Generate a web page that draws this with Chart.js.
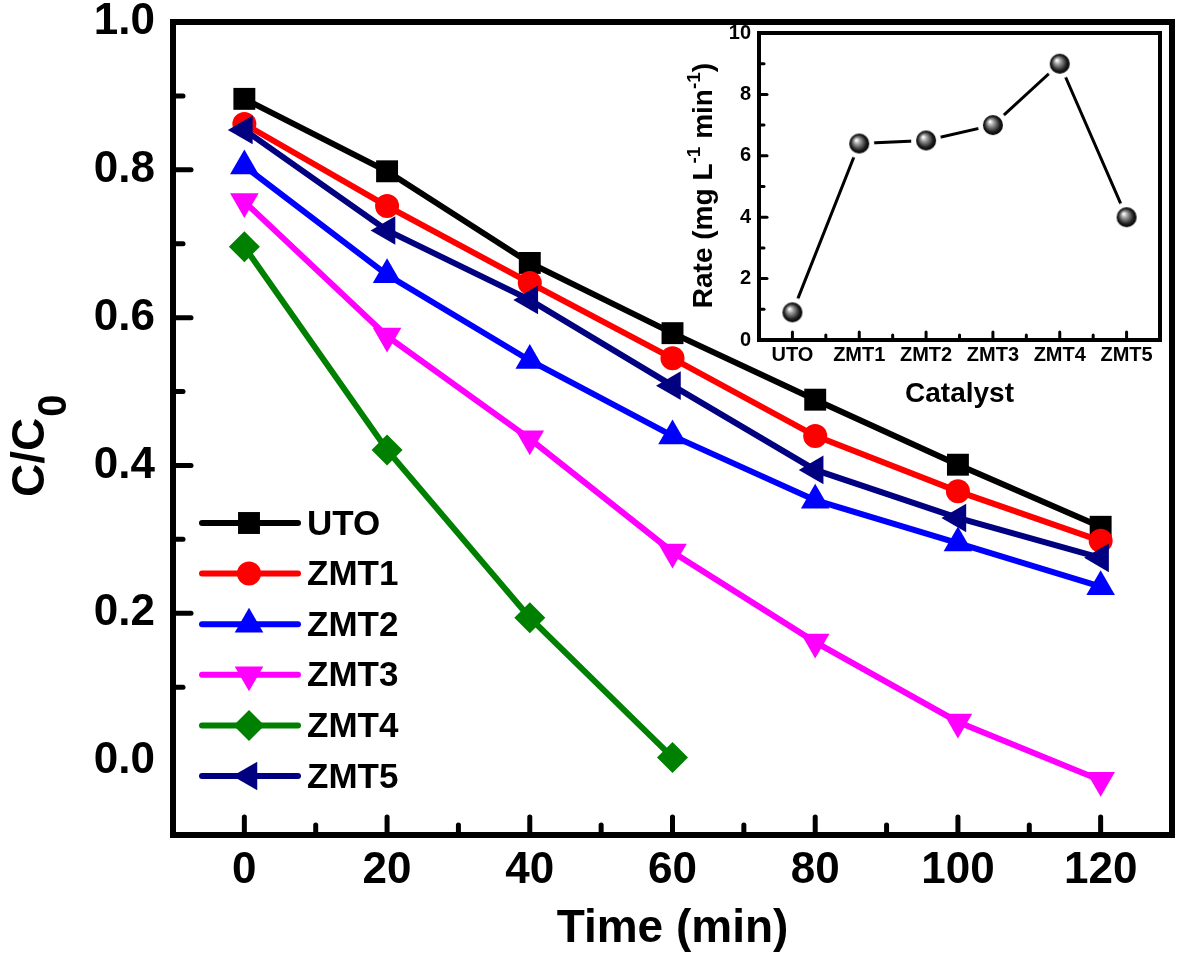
<!DOCTYPE html>
<html lang="en">
<head>
<meta charset="utf-8">
<title>C/C0 vs time</title>
<script src="https://cdn.jsdelivr.net/npm/chart.js@4.4.1/dist/chart.umd.min.js"></script>
<style>
body { margin: 0; background: #fff; }
#wrap { position: relative; width: 1179px; height: 962px; }
#main { position: absolute; left: 0; top: 0; z-index: 2; }
#inset { position: absolute; left: 660px; top: 0; z-index: 1; }
</style>
</head>
<body>
<div id="wrap">
<canvas id="inset" width="519" height="420"></canvas>
<canvas id="main" width="1179" height="962"></canvas>
</div>
<script>
// main plot data
const times = [0, 20, 40, 60, 80, 100, 120];
const uto  = [0.896, 0.798, 0.674, 0.579, 0.489, 0.401, 0.317];
const zmt1 = [0.862, 0.751, 0.647, 0.545, 0.440, 0.365, 0.298];
const zmt2 = [0.805, 0.658, 0.542, 0.440, 0.353, 0.295, 0.236];
const zmt3 = [0.757, 0.575, 0.436, 0.283, 0.161, 0.053, -0.026];
const zmt4 = [0.696, 0.421, 0.194, 0.005];
const zmt5 = [0.854, 0.718, 0.624, 0.508, 0.394, 0.329, 0.275];
const timeTicks = [0, 20, 40, 60, 80, 100, 120];
const ratioTicks = [0, 0.2, 0.4, 0.6, 0.8, 1.0];

// inset data
const catalysts = ['UTO', 'ZMT1', 'ZMT2', 'ZMT3', 'ZMT4', 'ZMT5'];
const rates = [0.9, 6.4, 6.5, 7.0, 9.0, 4.0];
const rateTicks = [0, 2, 4, 6, 8, 10];

const FONT = 'Arial, "Liberation Sans", Helvetica, sans-serif';

// fixed axis box, no extra label padding
function fixBox(s, size) {
	if (s.isHorizontal()) s.height = size; else s.width = size;
	s.paddingTop = 0; s.paddingBottom = 0; s.paddingLeft = 0; s.paddingRight = 0;
}

function series(label, vals, color, style, radius, rot, order) {
	return {
		label: label,
		data: vals.map((v, i) => ({x: times[i], y: v})),
		borderColor: color,
		backgroundColor: color,
		borderWidth: 6,
		pointStyle: style,
		pointRadius: radius,
		pointRotation: rot,
		pointBorderWidth: 0,
		tension: 0,
		order: order
	};
}

const datasets = [
	series('UTO', uto, '#000000', 'rect', 15.5, 0, 6),
	series('ZMT1', zmt1, '#ff0000', 'circle', 12, 0, 5),
	series('ZMT2', zmt2, '#0000ff', 'triangle', 16.5, 0, 4),
	series('ZMT3', zmt3, '#ff00ff', 'triangle', 16.5, 180, 3),
	series('ZMT4', zmt4, '#008000', 'rectRot', 15.5, 0, 2),
	series('ZMT5', zmt5, '#000080', 'triangle', 16.5, 270, 1)
];

// frame, inward ticks, legend and y title for the main plot
const mainDecor = {
	id: 'mainDecor',
	afterDraw(chart) {
		const ctx = chart.ctx, a = chart.chartArea;
		const xs = chart.scales.x, ys = chart.scales.y;
		ctx.save();
		ctx.strokeStyle = '#000';
		ctx.lineCap = 'round';
		ctx.lineWidth = 5;
		for (let v = 0; v <= 120; v += 10) {
			const px = xs.getPixelForValue(v);
			const len = (v % 20 === 0) ? 18 : 10;
			ctx.beginPath(); ctx.moveTo(px, a.bottom); ctx.lineTo(px, a.bottom - len); ctx.stroke();
		}
		for (let k = 1; k <= 9; k++) {
			const py = ys.getPixelForValue(k / 10);
			const len = (k % 2 === 0) ? 18 : 10;
			ctx.beginPath(); ctx.moveTo(a.left, py); ctx.lineTo(a.left + len, py); ctx.stroke();
		}
		ctx.lineCap = 'butt';
		ctx.lineJoin = 'miter';
		ctx.lineWidth = 6;
		ctx.strokeRect(a.left, a.top, a.right - a.left, a.bottom - a.top);

		// legend: line + marker + label
		let ly = 523;
		chart.data.datasets.forEach(ds => {
			ctx.strokeStyle = ds.borderColor;
			ctx.fillStyle = ds.backgroundColor;
			ctx.lineWidth = 6;
			ctx.lineCap = 'round';
			ctx.beginPath(); ctx.moveTo(202, ly); ctx.lineTo(298, ly); ctx.stroke();
			Chart.helpers.drawPoint(ctx, {pointStyle: ds.pointStyle, rotation: ds.pointRotation,
				radius: ds.pointRadius, borderWidth: 0}, 249, ly);
			ctx.fillStyle = '#000';
			ctx.font = 'bold 35px ' + FONT;
			ctx.textAlign = 'left';
			ctx.textBaseline = 'middle';
			ctx.fillText(ds.label, 307, ly + 2);
			ly += 50.6;
		});

		// C/C0 with subscript
		ctx.save();
		ctx.translate(44, 497);
		ctx.rotate(-Math.PI / 2);
		ctx.fillStyle = '#000';
		ctx.textAlign = 'left';
		ctx.textBaseline = 'alphabetic';
		ctx.font = 'bold 46px ' + FONT;
		ctx.fillText('C/C', 0, 0);
		const w = ctx.measureText('C/C').width;
		ctx.font = 'bold 40px ' + FONT;
		ctx.fillText('0', w + 1, 22);
		ctx.restore();
		ctx.restore();
	}
};

const mainChart = new Chart(document.getElementById('main'), {
	type: 'line',
	data: {datasets: datasets},
	options: {
		responsive: false,
		animation: false,
		layout: {autoPadding: false, padding: {left: 0, top: 22, right: 7, bottom: 0}},
		plugins: {legend: {display: false}, tooltip: {enabled: false}},
		scales: {
			x: {
				type: 'linear', min: -10, max: 130,
				afterBuildTicks: s => { s.ticks = timeTicks.map(v => ({value: v})); },
				afterFit: s => fixBox(s, 127),
				grid: {display: false, drawTicks: false},
				border: {display: false},
				ticks: {color: '#000', font: {family: FONT, size: 44, weight: 'bold'}, padding: 9, maxRotation: 0, autoSkip: false},
				title: {display: true, text: 'Time (min)', color: '#000',
					font: {family: FONT, size: 46, weight: 'bold'}, padding: {top: 0, bottom: 5}}
			},
			y: {
				type: 'linear', min: -0.1, max: 1.0,
				afterBuildTicks: s => { s.ticks = ratioTicks.map(v => ({value: v})); },
				afterFit: s => fixBox(s, 173),
				grid: {display: false, drawTicks: false},
				border: {display: false},
				ticks: {color: '#000', font: {family: FONT, size: 44, weight: 'bold'}, padding: 18,
					callback: v => Number(v).toFixed(1)}
			}
		}
	},
	plugins: [mainDecor]
});

// glossy ball marker with a white halo (gap in the line)
function ball(r) {
	const c = document.createElement('canvas');
	const s = 2 * (r + 6);
	c.width = s; c.height = s;
	const g = c.getContext('2d');
	g.fillStyle = '#fff';
	g.beginPath(); g.arc(s / 2, s / 2, r + 5, 0, Math.PI * 2); g.fill();
	const grd = g.createRadialGradient(s / 2 - r * 0.3, s / 2 - r * 0.35, r * 0.05, s / 2, s / 2, r);
	grd.addColorStop(0, '#ffffff');
	grd.addColorStop(0.3, '#9a9a9a');
	grd.addColorStop(0.75, '#202020');
	grd.addColorStop(1, '#000000');
	g.fillStyle = grd;
	g.beginPath(); g.arc(s / 2, s / 2, r, 0, Math.PI * 2); g.fill();
	return c;
}

const insetDecor = {
	id: 'insetDecor',
	afterDraw(chart) {
		const ctx = chart.ctx, a = chart.chartArea;
		const xs = chart.scales.x, ys = chart.scales.y;
		ctx.save();
		ctx.strokeStyle = '#000';
		ctx.lineCap = 'round';
		ctx.lineWidth = 3;
		for (let i = 0; i < catalysts.length; i++) {
			let px = xs.getPixelForValue(i);
			ctx.beginPath(); ctx.moveTo(px, a.bottom); ctx.lineTo(px, a.bottom - 8); ctx.stroke();
			if (i < catalysts.length - 1) {
				px = xs.getPixelForValue(i + 0.5);
				ctx.beginPath(); ctx.moveTo(px, a.bottom); ctx.lineTo(px, a.bottom - 5); ctx.stroke();
			}
		}
		for (let v = 1; v < 10; v++) {
			const py = ys.getPixelForValue(v);
			const len = (v % 2 === 0) ? 8 : 5;
			ctx.beginPath(); ctx.moveTo(a.left, py); ctx.lineTo(a.left + len, py); ctx.stroke();
		}
		ctx.lineCap = 'butt';
		ctx.lineWidth = 4;
		ctx.strokeRect(a.left, a.top, a.right - a.left, a.bottom - a.top);

		// y title with superscripts
		const parts = [['Rate (mg L', false], ['-1', true], [' min', false], ['-1', true], [')', false]];
		const big = 'bold 28px ' + FONT, small = 'bold 19px ' + FONT;
		let total = 0;
		parts.forEach(p => { ctx.font = p[1] ? small : big; total += ctx.measureText(p[0]).width; });
		ctx.translate(52, (a.top + a.bottom) / 2 + total / 2 - 1);
		ctx.rotate(-Math.PI / 2);
		ctx.fillStyle = '#000';
		ctx.textAlign = 'left';
		ctx.textBaseline = 'alphabetic';
		let x = 0;
		parts.forEach(p => {
			ctx.font = p[1] ? small : big;
			ctx.fillText(p[0], x, p[1] ? -12 : 0);
			x += ctx.measureText(p[0]).width;
		});
		ctx.restore();
	}
};

const insetChart = new Chart(document.getElementById('inset'), {
	type: 'line',
	data: {
		labels: catalysts,
		datasets: [{
			label: 'Rate',
			data: rates,
			borderColor: '#000',
			borderWidth: 3,
			pointStyle: ball(10),
			pointRadius: 10,
			tension: 0
		}]
	},
	options: {
		responsive: false,
		animation: false,
		layout: {autoPadding: false, padding: {left: 0, top: 33, right: 19, bottom: 0}},
		plugins: {legend: {display: false}, tooltip: {enabled: false}},
		scales: {
			x: {
				type: 'category', offset: true,
				afterFit: s => fixBox(s, 80),
				grid: {display: false, drawTicks: false},
				border: {display: false},
				ticks: {color: '#000', font: {family: FONT, size: 20, weight: 'bold'}, padding: 3, maxRotation: 0, autoSkip: false},
				title: {display: true, text: 'Catalyst', color: '#000',
					font: {family: FONT, size: 28, weight: 'bold'}, padding: {top: 0, bottom: 9}}
			},
			y: {
				type: 'linear', min: 0, max: 10,
				afterBuildTicks: s => { s.ticks = rateTicks.map(v => ({value: v})); },
				afterFit: s => fixBox(s, 99),
				grid: {display: false, drawTicks: false},
				border: {display: false},
				ticks: {color: '#000', font: {family: FONT, size: 20, weight: 'bold'}, padding: 8}
			}
		}
	},
	plugins: [insetDecor]
});
</script>
</body>
</html>
